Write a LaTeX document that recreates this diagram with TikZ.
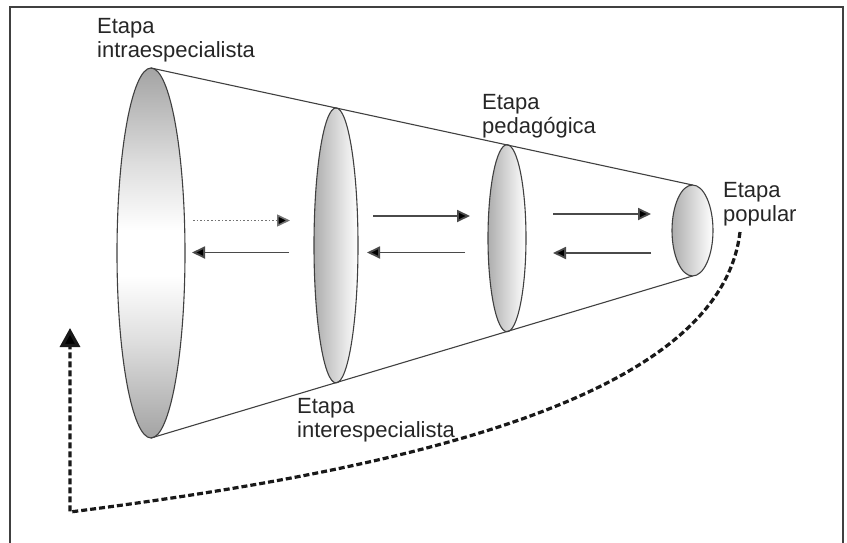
\documentclass[tikz,border=0pt]{standalone}
\usepackage{fontspec}
\setmainfont{Liberation Sans}
\usetikzlibrary{arrows.meta}
\definecolor{edge}{HTML}{404040}
\definecolor{shaft}{HTML}{4a4a4a}
\pgfdeclareverticalshading{bigdisc}{100bp}{color(0bp)=(black!36); color(25bp)=(black!36); color(38bp)=(black!13); color(47bp)=(white); color(53bp)=(white); color(62bp)=(black!13); color(75bp)=(black!36); color(100bp)=(black!36)}
\tikzset{
  lbl/.style={anchor=base west, inner sep=0pt, align=left, font=\fontsize{22}{24}\selectfont, text=black!85},
  cone/.style={draw=edge, line width=1.1pt},
  disc/.style={draw=edge, line width=1.1pt, left color=black!32, right color=white},
  fwd/.style={draw=shaft, line width=1.8pt, -{Triangle[length=13pt,width=12pt,fill=black]}},
  fwddot/.style={draw=black!55, line width=1.6pt, dotted, -{Triangle[length=13pt,width=12pt,fill=black]}},
  loop/.style={draw=black!90, line width=3.2pt, dash pattern=on 6pt off 3pt, -{Triangle[length=19pt,width=20pt,fill=black]}},
}
\begin{document}
\begin{tikzpicture}[x=1pt,y=-1pt]
\useasboundingbox (0,0) rectangle (847,543);
% frame
\draw[edge, line width=1.5pt] (10,560) -- (10,7) -- (843,7) -- (843,560);

% cone outline points
\coordinate (t1) at (151,68);   \coordinate (b1) at (151,438);
\coordinate (t4) at (692.5,185); \coordinate (b4) at (692.5,276);

% discs
\shade[draw=edge, line width=1.1pt, shading=bigdisc] (151,253) ellipse [x radius=34, y radius=185];
\shade[disc] (336,245.4) ellipse [x radius=22, y radius=137.5];
\shade[disc] (507,238.2) ellipse [x radius=19, y radius=93.5];
\shade[disc] (692.5,230.5) ellipse [x radius=20.5, y radius=45.5];

% cone lines
\draw[cone] (t1) -- (t4);
\draw[cone] (b1) -- (b4);

% arrow coordinates
\coordinate (r1s) at (193,220.5); \coordinate (r1e) at (290,220.5);
\coordinate (r2s) at (373,216);   \coordinate (r2e) at (470,216);
\coordinate (r3s) at (553,214);   \coordinate (r3e) at (651,214);
\coordinate (l1s) at (289,252.5); \coordinate (l1e) at (192,252.5);
\coordinate (l2s) at (465,252.5); \coordinate (l2e) at (367,252.5);
\coordinate (l3s) at (651,253);   \coordinate (l3e) at (553,253);

\draw[fwddot] (r1s) -- (r1e);
\draw[fwd] (r2s) -- (r2e);
\draw[fwd] (r3s) -- (r3e);
\draw[fwd] (l1s) -- (l1e);
\draw[fwd] (l2s) -- (l2e);
\draw[fwd] (l3s) -- (l3e);

% feedback loop
\coordinate (ls) at (740,232);
\coordinate (lc) at (70,512);
\coordinate (le) at (70,328);
\draw[loop] (ls) .. controls (720,400) and (400,470) .. (lc) -- (le);

% labels (anchor at baseline of the second line)
\node[lbl] (intra) at (97,58) {Etapa\\intraespecialista};
\node[lbl] (ped) at (482,133) {Etapa\\pedagógica};
\node[lbl] (pop) at (723,221) {Etapa\\popular};
\node[lbl] (inter) at (297,437) {Etapa\\interespecialista};
\end{tikzpicture}
\end{document}
